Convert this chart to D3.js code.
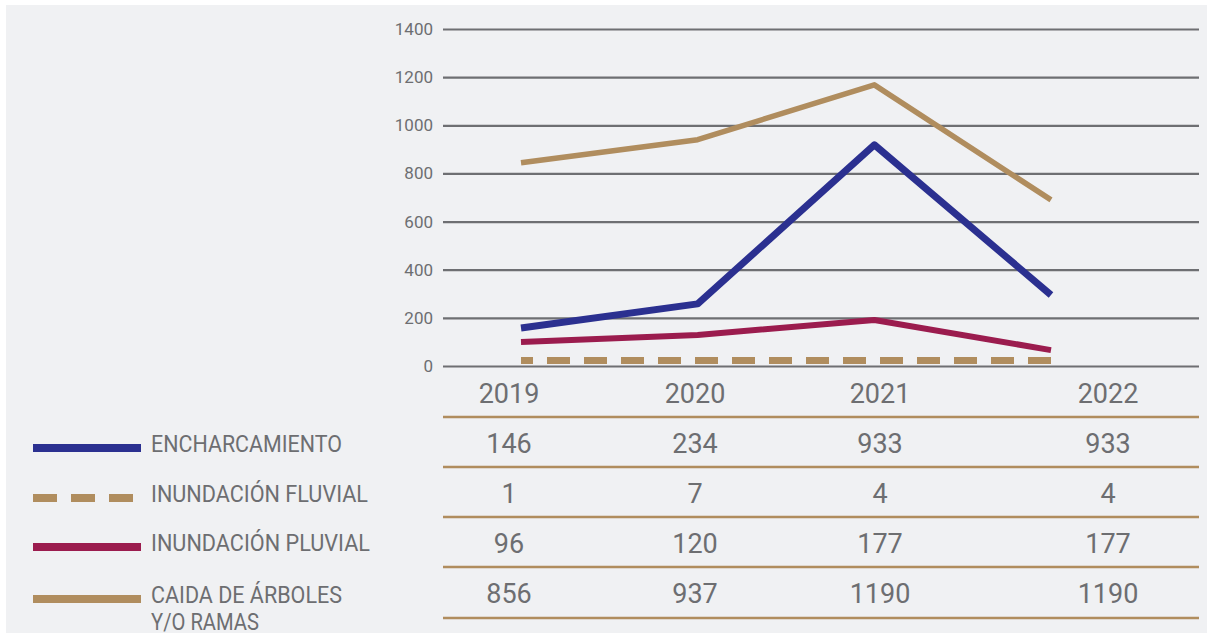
<!DOCTYPE html>
<html>
<head>
<meta charset="utf-8">
<script src="https://cdn.jsdelivr.net/npm/d3@7"></script>
<style>
  html, body { margin: 0; padding: 0; background: #ffffff; }
  svg { display: block; }
  text { font-family: Roboto, "Open Sans", "Liberation Sans", sans-serif; fill: #6d6e71; }
</style>
</head>
<body>
<svg id="chart" width="1207" height="635"></svg>
<script>
// ---- Data ----
const years = ["2019", "2020", "2021", "2022"];
const yTicks = [0, 200, 400, 600, 800, 1000, 1200, 1400];
const seriesNames = ["ENCHARCAMIENTO", "INUNDACIÓN FLUVIAL", "INUNDACIÓN PLUVIAL", "CAIDA DE ÁRBOLES Y/O RAMAS"];
// values as plotted on the chart
const encharcamiento = [158, 258, 919, 295];
const inundacionFluvial = [23, 23, 23, 23];
const inundacionPluvial = [100, 129, 191, 66];
const caidaArboles = [844, 940, 1168, 690];
// values as printed in the table
const tableEncharcamiento = ["146", "234", "933", "933"];
const tableFluvial = ["1", "7", "4", "4"];
const tablePluvial = ["96", "120", "177", "177"];
const tableCaida = ["856", "937", "1190", "1190"];

const series = [
  { name: seriesNames[0], values: encharcamiento, table: tableEncharcamiento, color: "#2b3090", width: 7, dash: null },
  { name: seriesNames[1], values: inundacionFluvial, table: tableFluvial, color: "#b08d5e", width: 7, dash: "23 14" },
  { name: seriesNames[2], values: inundacionPluvial, table: tablePluvial, color: "#9b1c4e", width: 6, dash: null },
  { name: seriesNames[3], values: caidaArboles, table: tableCaida, color: "#b08d5e", width: 5.5, dash: null }
];

const svg = d3.select("#chart");

// panel background
svg.append("rect").attr("x", 6).attr("y", 5).attr("width", 1201).attr("height", 628).attr("fill", "#f0f1f3");

// scales
const y = d3.scaleLinear().domain([0, 1400]).range([366, 29]);
const x = d3.scalePoint().domain(years).range([521, 1051]);
const tableX = d3.scaleOrdinal().domain(years).range([509, 695, 880, 1108]);

const gridLeft = 443, gridRight = 1199;

// y axis with gridlines
const yAxis = d3.axisLeft(y).tickValues(yTicks).tickSize(-(gridRight - gridLeft)).tickPadding(10).tickFormat(d3.format("d"));
const gAxis = svg.append("g").attr("transform", `translate(${gridLeft},0)`).call(yAxis);
gAxis.select(".domain").remove();
gAxis.selectAll(".tick line").attr("stroke", "#6e6f72").attr("stroke-width", 2.2);
gAxis.selectAll(".tick text").attr("font-size", 17).attr("fill", "#6d6e71")
  .attr("font-family", "Roboto, 'Open Sans', sans-serif").attr("x", -10);

// lines
const line = d3.line().x((d, i) => x(years[i])).y(d => y(d));
const drawOrder = [1, 2, 0, 3];
drawOrder.forEach(k => {
  const s = series[k];
  const p = svg.append("path")
    .datum(s.values)
    .attr("d", line)
    .attr("fill", "none")
    .attr("stroke", s.color)
    .attr("stroke-width", s.width)
    .attr("stroke-linejoin", "round")
    .attr("stroke-linecap", "butt");
  if (s.dash) p.attr("stroke-dasharray", s.dash).attr("stroke-dashoffset", 11);
});

// table
const rowBaselines = [403, 453, 503, 553, 603];
const rowLines = [417, 467, 517, 567, 618];
rowLines.forEach(ly => {
  svg.append("line").attr("x1", gridLeft).attr("x2", gridRight).attr("y1", ly).attr("y2", ly)
    .attr("stroke", "#b08d5e").attr("stroke-width", 2.6);
});
svg.append("g").selectAll("text").data(years).join("text")
  .attr("x", d => tableX(d)).attr("y", rowBaselines[0])
  .attr("text-anchor", "middle").attr("font-size", 27).text(d => d);
series.forEach((s, r) => {
  svg.append("g").selectAll("text").data(s.table).join("text")
    .attr("x", (d, i) => tableX(years[i])).attr("y", rowBaselines[r + 1])
    .attr("text-anchor", "middle").attr("font-size", 27).text(d => d);
});

// legend
const legendLineY = [448, 498, 547, 599];
const legendTextY = [452, 502, 551, 603];
const legendLabelLines = [["ENCHARCAMIENTO"], ["INUNDACIÓN FLUVIAL"], ["INUNDACIÓN PLUVIAL"], ["CAIDA DE ÁRBOLES", "Y/O RAMAS"]];
const legendWidths = [[191], [217], [219], [191, 108]];
series.forEach((s, r) => {
  const l = svg.append("line").attr("x1", 33).attr("x2", 141)
    .attr("y1", legendLineY[r]).attr("y2", legendLineY[r])
    .attr("stroke", s.color).attr("stroke-width", 8);
  if (s.dash) l.attr("stroke-dasharray", "24 14");
  legendLabelLines[r].forEach((t, j) => {
    svg.append("text").attr("x", 151).attr("y", legendTextY[r] + j * 27)
      .attr("font-size", 23).attr("textLength", legendWidths[r][j]).attr("lengthAdjust", "spacingAndGlyphs")
      .text(t);
  });
});
</script>
</body>
</html>
